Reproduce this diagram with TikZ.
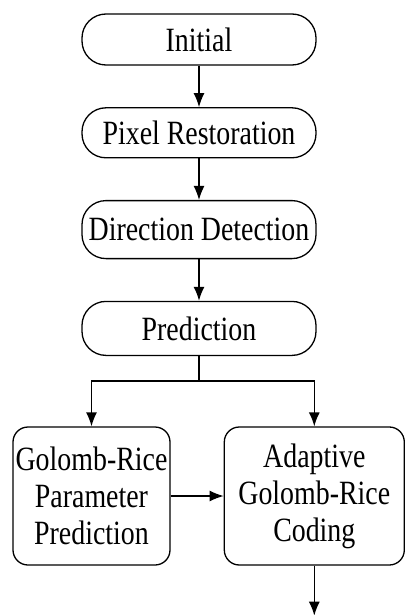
\documentclass[tikz,border=0pt]{standalone}
\usepackage{fontspec}
\setmainfont[FakeStretch=0.82]{Liberation Serif}
\usepackage{tikz}
\usetikzlibrary{arrows.meta}
\usetikzlibrary{calc}
\usetikzlibrary{positioning}

\begin{document}
\begin{tikzpicture}[->,>={Latex[length=14pt,width=11pt]},line width=1.3pt,x=1pt,y=1pt,
                    node distance=41.5pt,
                    stage/.style={draw,rounded corners=24pt,minimum width=234pt,
                                  inner sep=0pt,font=\fontsize{34}{37}\selectfont},
                    block/.style={draw,rounded corners=15pt,minimum height=138pt,
                                  inner sep=0pt,align=center,font=\fontsize{34}{37}\selectfont}]

    \useasboundingbox (0,0) rectangle (404,-615);

    \node[stage, minimum height=51pt] (init) at (199,-39.5) {Initial};
    \node[stage, minimum height=50pt] (pixres) [below=of init] {Pixel Restoration};
    \node[stage, minimum height=58pt] (dirdet) [below=of pixres] {Direction Detection};
    \node[stage, minimum height=54pt] (pred) [below=of dirdet] {Prediction};

    \node[block, minimum width=157pt] (grpp) at (91.5,-496) {Golomb-Rice\\Parameter\\Prediction};
    \node[block, minimum width=180pt] (agrc) [right=53pt of grpp] {Adaptive\\Golomb-Rice\\Coding};
    \coordinate (out) at ($(agrc.south)+(0,-50)$);

    \path (init)   edge (pixres)
          (pixres) edge (dirdet)
          (dirdet) edge (pred)
          (grpp)   edge (agrc)
          (agrc)   edge (out);

    % split below prediction
    \draw[-] (pred.south) -- ++(0,-25) coordinate (split);
    \draw (split) -| (grpp.north);
    \draw (split) -| (agrc.north);
\end{tikzpicture}
\end{document}
